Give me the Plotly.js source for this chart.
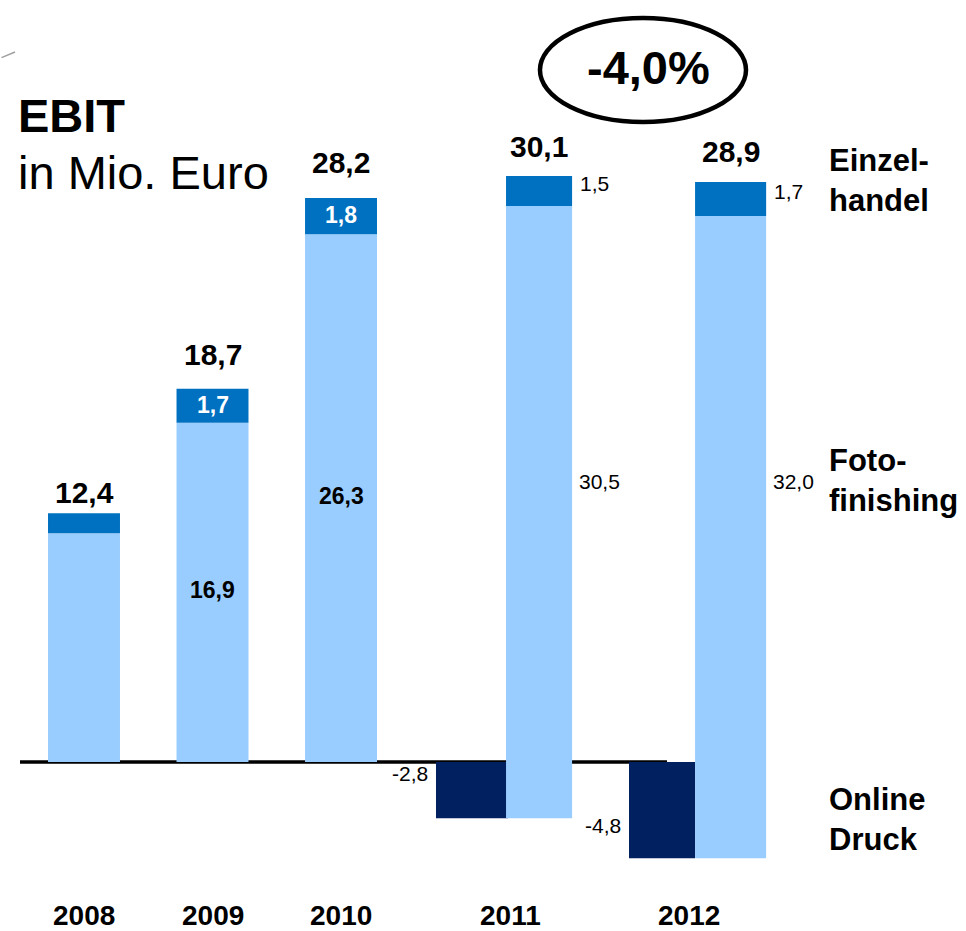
<!DOCTYPE html>
<html>
<head>
<meta charset="utf-8">
<script src="https://cdn.plot.ly/plotly-3.0.1.min.js"></script>
<style>
  html, body { margin: 0; padding: 0; background: #fff; }
  #chart { width: 966px; height: 931px; }
</style>
</head>
<body>
<div id="chart"></div>
<script>
// ---- data ----
var years = ['2008', '2009', '2010', '2011', '2012'];
var fotofinishing = [11.4, 16.9, 26.3, 30.5, 32.0];
var einzelhandel = [1.0, 1.7, 1.8, 1.5, 1.7];
var onlineDruck = [0, 0, 0, -2.8, -4.8];
var totals = [12.4, 18.7, 28.2, 30.1, 28.9];
var totalLabels = ['12,4', '18,7', '28,2', '30,1', '28,9'];
var fotoLabels = ['', '16,9', '26,3', '30,5', '32,0'];
var einzelLabels = ['', '1,7', '1,8', '1,5', '1,7'];
var onlineLabels = ['', '', '', '-2,8', '-4,8'];
var seriesNames = ['Einzel-<br>handel', 'Foto-<br>finishing', 'Online<br>Druck'];
var changeLabel = '-4,0%';

// ---- style / layout constants ----
var FONT = 'Liberation Sans, Arial, Helvetica, sans-serif';
var C_LIGHT = '#99CCFF', C_MID = '#0070C0', C_DARK = '#002060';
var upOffset = [-0.28, -0.28, -0.28, 0.284, 0.755];
var upWidth = [0.56, 0.56, 0.56, 0.514, 0.553];
var dnOffset = [-0.28, -0.28, -0.28, -0.261, 0.241];
var dnWidth = [0.56, 0.56, 0.56, 0.56, 0.514];
var PX_PER_CAT = 128.5;
var totalShiftY = [0, 12, 13, -9, 10];      // px nudges of the total labels
var yearShiftX = [0, 0, 0, 41, 91];         // px nudges of the year labels
var onlineShiftY = [0, 0, 0, 45, 33];       // px nudges of the negative labels
var outsideFotoY = 14;                      // level of the outside Fotofinishing labels

var fotoBase = onlineDruck.slice();
var einzelBase = fotoBase.map(function (b, i) { return b + fotofinishing[i]; });

var traces = [
  { type: 'bar', name: 'Online Druck', x: years, y: onlineDruck, base: 0,
    offset: dnOffset, width: dnWidth, marker: { color: C_DARK }, hoverinfo: 'skip' },
  { type: 'bar', name: 'Fotofinishing', x: years, y: fotofinishing, base: fotoBase,
    offset: upOffset, width: upWidth, marker: { color: C_LIGHT }, hoverinfo: 'skip' },
  { type: 'bar', name: 'Einzelhandel', x: years, y: einzelhandel, base: einzelBase,
    offset: upOffset, width: upWidth, marker: { color: C_MID }, hoverinfo: 'skip' }
];

function upCenterShift(i) { return (upOffset[i] + upWidth[i] / 2) * PX_PER_CAT; }
function upRightShift(i) { return (upOffset[i] + upWidth[i]) * PX_PER_CAT; }
function dnLeftShift(i) { return dnOffset[i] * PX_PER_CAT; }

var ann = [];
years.forEach(function (yr, i) {
  // category axis: annotations use the category index
  ann.push({ x: i, y: totals[i], xref: 'x', yref: 'y', text: totalLabels[i],
    showarrow: false, xanchor: 'center', yanchor: 'bottom', xshift: upCenterShift(i), yshift: 2 + totalShiftY[i],
    font: { family: FONT, size: 30, color: '#000', weight: 'bold' } });
  ann.push({ x: i, y: 0, xref: 'x', yref: 'paper', text: yr, showarrow: false,
    xanchor: 'center', yanchor: 'middle', yshift: -15, xshift: yearShiftX[i],
    font: { family: FONT, size: 28, color: '#000', weight: 'bold' } });
  var inside = onlineDruck[i] === 0;
  if (einzelLabels[i]) {
    if (inside) {
      ann.push({ x: i, y: einzelBase[i] + einzelhandel[i] / 2, xref: 'x', yref: 'y', text: einzelLabels[i], showarrow: false,
        xanchor: 'center', yanchor: 'middle', xshift: upCenterShift(i), yshift: 1,
        font: { family: FONT, size: 23, color: '#fff', weight: 'bold' } });
    } else {
      ann.push({ x: i, y: einzelBase[i] + einzelhandel[i] / 2, xref: 'x', yref: 'y', text: einzelLabels[i], showarrow: false,
        xanchor: 'left', yanchor: 'middle', xshift: upRightShift(i) + 6, yshift: 8,
        font: { family: FONT, size: 21, color: '#000' } });
    }
  }
  if (fotoLabels[i]) {
    if (inside) {
      ann.push({ x: i, y: fotoBase[i] + fotofinishing[i] / 2, xref: 'x', yref: 'y', text: fotoLabels[i], showarrow: false,
        xanchor: 'center', yanchor: 'middle', xshift: upCenterShift(i), yshift: 2,
        font: { family: FONT, size: 23, color: '#000', weight: 'bold' } });
    } else {
      ann.push({ x: i, y: outsideFotoY, xref: 'x', yref: 'y', text: fotoLabels[i], showarrow: false,
        xanchor: 'left', yanchor: 'middle', xshift: upRightShift(i) + 5,
        font: { family: FONT, size: 21, color: '#000' } });
    }
  }
  if (onlineLabels[i]) {
    ann.push({ x: i, y: onlineDruck[i], xref: 'x', yref: 'y', text: onlineLabels[i], showarrow: false,
      xanchor: 'right', yanchor: 'middle', xshift: dnLeftShift(i) - 6, yshift: onlineShiftY[i],
      font: { family: FONT, size: 21, color: '#000' } });
  }
});

// series labels at right
var seriesY = [0.899, 0.524, 0.101];
seriesNames.forEach(function (n, k) {
  ann.push({ x: 1.069, y: seriesY[k], xref: 'paper', yref: 'paper', text: n, showarrow: false,
    xanchor: 'left', yanchor: 'middle', align: 'left',
    font: { family: FONT, size: 31, color: '#000', weight: 'bold' } });
});

// title
ann.push({ x: -0.0056, y: 0.981, xref: 'paper', yref: 'paper', text: 'EBIT', showarrow: false,
  xanchor: 'left', yanchor: 'middle', font: { family: FONT, size: 47, color: '#000', weight: 'bold' } });
ann.push({ x: -0.0056, y: 0.909, xref: 'paper', yref: 'paper', text: 'in Mio. Euro', showarrow: false,
  xanchor: 'left', yanchor: 'middle', font: { family: FONT, size: 47, color: '#000' } });

// change label
ann.push({ x: 0.8331, y: 1.040, xref: 'paper', yref: 'paper', text: changeLabel, showarrow: false,
  xanchor: 'center', yanchor: 'middle', font: { family: FONT, size: 47, color: '#000', weight: 'bold' } });

var shapes = [
  { type: 'line', xref: 'paper', yref: 'y', x0: 0, x1: 0.857, y0: 0, y1: 0,
    line: { color: '#000', width: 3.5 }, layer: 'below' },
  { type: 'circle', xref: 'paper', yref: 'paper', x0: 0.6887, x1: 0.9616, y0: 0.9725, y1: 1.1025,
    line: { color: '#000', width: 4.5 }, fillcolor: 'rgba(0,0,0,0)' },
  { type: 'line', xref: 'paper', yref: 'paper', x0: -0.0245, x1: -0.0066, y0: 1.053, y1: 1.06,
    line: { color: '#a0a0a0', width: 1.5 } }
];

var layout = {
  width: 966, height: 931,
  margin: { l: 20, r: 191, t: 100, b: 31 },
  paper_bgcolor: '#fff', plot_bgcolor: '#fff',
  barmode: 'overlay',
  showlegend: false,
  xaxis: { type: 'category', range: [-0.498, 5.377], showticklabels: false, showgrid: false,
    zeroline: false, showline: false, ticks: '', fixedrange: true },
  yaxis: { range: [-6.876, 32.985], showticklabels: false, showgrid: false, zeroline: false,
    showline: false, ticks: '', fixedrange: true },
  annotations: ann,
  shapes: shapes
};

Plotly.newPlot('chart', traces, layout, { displayModeBar: false, staticPlot: true });
</script>
</body>
</html>
